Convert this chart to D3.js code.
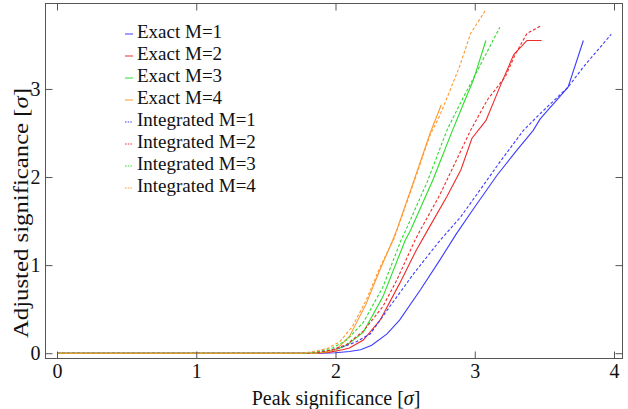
<!DOCTYPE html>
<html>
<head>
<meta charset="utf-8">
<script src="https://cdn.jsdelivr.net/npm/d3@7"></script>
<style>
body{margin:0;background:#fff}
svg{display:block}
svg text{font-family:'Liberation Serif','Times New Roman',Times,'DejaVu Serif',serif;fill:#111}
</style>
</head>
<body>
<svg></svg>
<script>
//series names, in the legend order
var names = ["Exact M=1","Exact M=2","Exact M=3","Exact M=4",
             "Integrated M=1","Integrated M=2","Integrated M=3","Integrated M=4"]

//[peak significance, adjusted significance]
var exactM1 = [[0,0],[1.9,0],[2.0,0.005],[2.1,0.02],[2.18,0.04],[2.26,0.09],[2.37,0.22],
    [2.46,0.375],[2.61,0.72],[2.75,1.06],[2.87,1.36],[3.0,1.66],[3.16,2.02],[3.3,2.3],
    [3.42,2.53],[3.47,2.66],[3.59,2.875],[3.67,3.02],[3.78,3.55]]
var exactM2 = [[0,0],[1.85,0],[1.95,0.01],[2.05,0.04],[2.1,0.06],[2.2,0.15],[2.32,0.375],
    [2.46,0.79],[2.58,1.17],[2.67,1.42],[2.8,1.78],[2.9,2.08],[2.98,2.44],[3.08,2.64],
    [3.19,3.06],[3.28,3.39],[3.375,3.55],[3.48,3.55]]
var exactM3 = [[0,0],[1.85,0],[1.95,0.02],[2.02,0.05],[2.08,0.09],[2.2,0.24],[2.34,0.64],
    [2.5,1.28],[2.54,1.4],[2.7,1.97],[2.84,2.53],[2.93,2.875],[2.99,3.1],[3.08,3.55]]
var exactM4 = [[0,0],[1.85,0],[1.95,0.02],[2.01,0.05],[2.1,0.19],[2.22,0.56],[2.32,0.95],
    [2.41,1.28],[2.44,1.4],[2.55,1.9],[2.68,2.5],[2.76,2.82]]
var integM1 = [[0,0],[1.75,0],[1.85,0.01],[1.95,0.03],[2.05,0.07],[2.15,0.13],[2.25,0.22],
    [2.39,0.53],[2.56,0.9],[2.75,1.28],[2.9,1.55],[3.05,1.88],[3.18,2.17],[3.35,2.53],
    [3.47,2.72],[3.59,2.9],[3.67,3.02],[3.78,3.25],[3.98,3.62]]
var integM2 = [[0,0],[1.78,0],[1.88,0.01],[1.98,0.04],[2.08,0.1],[2.2,0.25],[2.34,0.53],
    [2.44,0.83],[2.57,1.28],[2.61,1.4],[2.75,1.8],[2.97,2.53],[3.09,2.875],[3.22,3.14],
    [3.29,3.39],[3.375,3.63],[3.48,3.72]]
var integM3 = [[0,0],[1.78,0],[1.88,0.02],[1.98,0.06],[2.08,0.15],[2.2,0.35],[2.34,0.75],
    [2.47,1.28],[2.52,1.45],[2.66,1.95],[2.8,2.53],[2.9,2.85],[2.99,3.12],[3.18,3.7]]
var integM4 = [[0,0],[1.75,0],[1.85,0.02],[1.95,0.06],[2.03,0.13],[2.12,0.3],[2.22,0.6],
    [2.32,0.98],[2.42,1.3],[2.55,1.88],[2.68,2.48],[2.75,2.7],[2.89,3.25],[2.97,3.63],[3.08,3.9]]

var xTicks = [0,1,2,3,4]
var yTicks = [0,1,2,3]

var colors = ["#3c3cff","#f02a2a","#2ade2a","#ff9830"]

var serif = "'Liberation Serif','Times New Roman',Times,'DejaVu Serif',serif"

var makeTranslateString = function(x,y)
{
    return "translate("+x+","+y+")";
}

var minorTicks = function(lo,hi)
{
    //every 0.2 between the labelled ticks
    return d3.range(Math.round(lo*5),Math.round(hi*5)+1)
        .map(function(i){return i/5})
        .filter(function(v){return Math.abs(v-Math.round(v))>1e-6})
}

//Axes: frame with inward ticks on all four sides
var drawAxes = function(frame,xScale,yScale)
{
    var svg = d3.select("svg")
    var axes = svg.append("g").classed("axes",true)

    var xMinor = minorTicks(0,4)
    var yMinor = minorTicks(0,3.8)

    var sides = [
        {axis:d3.axisBottom, scale:xScale, t:makeTranslateString(0,frame.bottom), major:xTicks, minor:xMinor, labels:true},
        {axis:d3.axisTop, scale:xScale, t:makeTranslateString(0,frame.top), major:xTicks, minor:xMinor, labels:false},
        {axis:d3.axisLeft, scale:yScale, t:makeTranslateString(frame.left,0), major:yTicks, minor:yMinor, labels:true},
        {axis:d3.axisRight, scale:yScale, t:makeTranslateString(frame.right,0), major:yTicks, minor:yMinor, labels:false}
    ]
    sides.forEach(function(s){
        var g = axes.append("g").attr("transform",s.t)
            .attr("font-family",serif)
        g.call(s.axis(s.scale).tickValues(s.minor).tickSize(-4).tickFormat(""))
        g.call(s.axis(s.scale).tickValues(s.major).tickSize(-7).tickPadding(5)
            .tickFormat(s.labels ? d3.format("d") : ""))
        g.attr("font-family",serif).attr("font-size",20)
        g.select(".domain").remove()
        g.selectAll("line").attr("stroke","#555")
        g.selectAll("text").attr("fill","#111")
    })

    axes.append("rect")
        .attr("x",frame.left)
        .attr("y",frame.top)
        .attr("width",frame.right-frame.left)
        .attr("height",frame.bottom-frame.top)
        .attr("fill","none")
        .attr("stroke","#555")
        .attr("stroke-width",1)
}

//Lines
var drawPlot = function(allSeries,target,xScale,yScale)
{
    var line = d3.line()
        .x(function(d){return xScale(d[0])})
        .y(function(d){return yScale(d[1])})

    target.selectAll("path.series")
        .data(allSeries)
        .enter()
        .append("path")
        .classed("series",true)
        .attr("d",function(s){return line(s.values)})
        .attr("fill","none")
        .attr("stroke",function(s){return s.color})
        .attr("stroke-width",1.1)
        .attr("stroke-dasharray",function(s){return s.dashed ? "3,2" : null})
}

//text with an italic sigma inside brackets
var addSigmaLabel = function(sel,word)
{
    sel.append("tspan").text(word+" [")
    sel.append("tspan").text("\u03c3").style("font-style","italic")
    sel.append("tspan").text("]")
}

//Labels
var drawLabels = function(frame)
{
    var labels = d3.select("svg")
        .append("g")
        .classed("labels",true)

    var xl = labels.append("text")
        .attr("text-anchor","middle")
        .style("font-size","20px")
        .attr("x",336)
        .attr("y",405)
    addSigmaLabel(xl,"Peak significance")

    var yl = labels.append("g")
        .attr("transform",makeTranslateString(28,213))
        .append("text")
        .attr("text-anchor","middle")
        .attr("textLength",250)
        .attr("lengthAdjust","spacingAndGlyphs")
        .style("font-size","20px")
        .attr("transform","rotate(270)")
    addSigmaLabel(yl,"Adjusted significance")
}

//Legend setup
var drawLegend = function(allSeries)
{
    var legend = d3.select("svg")
        .append("g")
        .classed("legend",true)
        .attr("transform",makeTranslateString(125,37.5))

    var entries = legend.selectAll("g")
        .data(allSeries)
        .enter()
        .append("g")
        .attr("transform",function(s,index){
            return makeTranslateString(0,index*22)
        })

    entries.append("line")
        .attr("x1",0)
        .attr("x2",8)
        .attr("y1",-3.5)
        .attr("y2",-3.5)
        .attr("stroke",function(s){return s.color})
        .attr("stroke-width",1)
        .attr("stroke-dasharray",function(s){return s.dashed ? "1.5,1.2" : null})

    entries.append("text")
        .text(function(s){return s.name})
        .attr("x",12)
        .attr("y",0)
        .style("font-size","19px")
}

//graph setup
var initGraph = function()
{
    var screen = {width:628,height:409}
    var frame = {left:45.5,right:622.5,top:3.5,bottom:358.5}

    d3.select("svg")
        .attr("width",screen.width)
        .attr("height",screen.height)

    var xScale = d3.scaleLinear()
        .domain([-0.0826,4.061])
        .range([frame.left,frame.right])
    var yScale = d3.scaleLinear()
        .domain([-0.06,3.97])
        .range([frame.bottom,frame.top])

    var data = [exactM1,exactM2,exactM3,exactM4,integM1,integM2,integM3,integM4]
    var allSeries = data.map(function(values,i){
        return {name:names[i],values:values,color:colors[i%4],dashed:i>=4}
    })

    var target = d3.select("svg")
        .append("g")
        .attr("id","graph")

    drawPlot(allSeries,target,xScale,yScale)
    drawAxes(frame,xScale,yScale)
    drawLabels(frame)
    drawLegend(allSeries)
}

initGraph()
</script>
</body>
</html>
